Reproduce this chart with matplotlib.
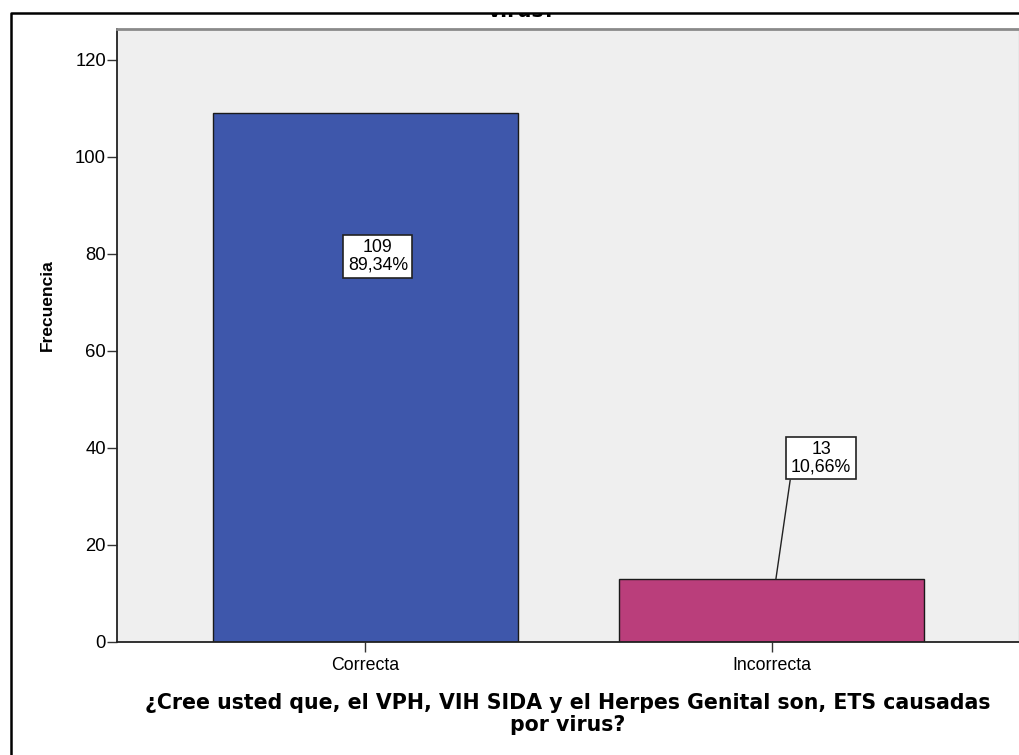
import matplotlib
matplotlib.use("Agg")
import matplotlib.pyplot as plt
from matplotlib.patches import Rectangle
from matplotlib.lines import Line2D

# Datos
categorias = ["Correcta", "Incorrecta"]
frecuencias = [109, 13]
porcentajes = ["89,34%", "10,66%"]
colores = ["#3E57AB", "#BA3E7B"]

titulo = "virus?"
xlabel = "¿Cree usted que, el VPH, VIH SIDA y el Herpes Genital son, ETS causadas\npor virus?"
ylabel = "Frecuencia"
yticks = [0, 20, 40, 60, 80, 100, 120]

plt.rcParams["font.family"] = ["Liberation Sans", "DejaVu Sans"]

fig = plt.figure(figsize=(10.2, 7.55), dpi=100)
W, H = 1020, 755

# ejes en pixeles del original
left, right, top, bottom = 117, 1019, 29, 642
ax = fig.add_axes([left / W, 1 - bottom / H, (right - left) / W, (bottom - top) / H])
ax.set_facecolor("#EFEFEF")

x = list(range(len(categorias)))
ax.bar(x, frecuencias, width=0.75, color=colores, edgecolor="#1a1a1a", linewidth=1.0, zorder=2)

ax.set_xlim(-0.611, 1.608)
ax.set_ylim(0, 126.3)
ax.set_xticks(x)
ax.set_xticklabels(categorias, fontsize=12.8)
ax.set_yticks(yticks)
ax.tick_params(axis="y", labelsize=13.3, length=7.5, width=1.0, color="#333333", pad=0.5)
ax.tick_params(axis="x", length=7.5, width=1.0, color="#333333", pad=3.5)

for s in ["left", "bottom"]:
    ax.spines[s].set_color("#222222")
    ax.spines[s].set_linewidth(1.3)
ax.spines["top"].set_color("#8a8a8a")
ax.spines["top"].set_linewidth(2.0)
ax.spines["right"].set_color("#c8c8c8")
ax.spines["right"].set_linewidth(1.0)

ax.set_xlabel(xlabel, fontsize=14.8, fontweight="bold", family="DejaVu Sans", linespacing=1.1, va="top")
ax.xaxis.set_label_coords(0.5, -0.084)
ax.set_ylabel(ylabel, fontsize=12.5, fontweight="bold")
ax.yaxis.set_label_coords(-0.069, 0.55)

caja = dict(boxstyle="square,pad=0.25", fc="white", ec="#222222", lw=1.2)

# etiqueta barra Correcta (dentro de la barra)
ax.text(0.031, 79.5, f"{frecuencias[0]}\n{porcentajes[0]}", ha="center", va="center",
        fontsize=12.8, linespacing=1.0, bbox=caja, zorder=4)

# etiqueta barra Incorrecta (con linea guia)
ax.annotate(f"{frecuencias[1]}\n{porcentajes[1]}", xy=(1.010, frecuencias[1]), xytext=(1.121, 37.9),
            ha="center", va="center", fontsize=12.8, linespacing=1.0, bbox=caja, zorder=4,
            arrowprops=dict(arrowstyle="-", color="#222222", lw=1.0, relpos=(0, 0),
                            shrinkA=0, shrinkB=0))

# titulo cortado arriba
fig.text(522 / W, 1 - 17 / H, titulo, ha="center", va="baseline", fontsize=14.5,
         fontweight="bold", family="DejaVu Sans")
fig.patches.append(Rectangle((0, 1 - 13 / H), 1, 13 / H, transform=fig.transFigure,
                             fc="white", ec="none", zorder=10))

# borde exterior
fig.lines.append(Line2D([11 / W, 11 / W, 1], [0, 1 - 13 / H, 1 - 13 / H], transform=fig.transFigure,
                        color="black", lw=1.8, zorder=11))

fig.savefig("out.png", dpi=100)
